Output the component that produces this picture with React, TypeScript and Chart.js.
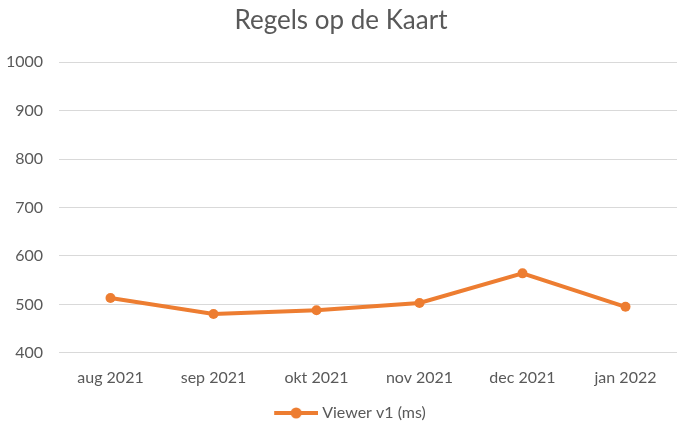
import { useEffect, useRef } from "react";
import { Chart, registerables } from "chart.js";
Chart.register(...registerables);

const categories = ["aug 2021", "sep 2021", "okt 2021", "nov 2021", "dec 2021", "jan 2022"];
const viewerV1 = [513, 480, 488, 503, 564, 495];
const yMin = 400;
const yMax = 1000;
const yStep = 100;
const titleText = "Regels op de Kaart";
const seriesLabel = "Viewer v1 (ms)";

const ORANGE = "#ED7D31";
const TEXT = "#595959";
const GRID = "#D9D9D9";

function makeLegendIcon(): HTMLCanvasElement {
  const c = document.createElement("canvas");
  c.width = 66;
  c.height = 12;
  const ctx = c.getContext("2d")!;
  ctx.strokeStyle = ORANGE;
  ctx.lineWidth = 4;
  ctx.beginPath();
  ctx.moveTo(22, 6);
  ctx.lineTo(66, 6);
  ctx.stroke();
  ctx.fillStyle = ORANGE;
  ctx.beginPath();
  ctx.arc(44, 6, 5.5, 0, Math.PI * 2);
  ctx.fill();
  return c;
}

export default function App() {
  const ref = useRef<HTMLCanvasElement>(null);
  useEffect(() => {
    if (!ref.current) return;
    const icon = makeLegendIcon();
    const chart = new Chart(ref.current, {
      type: "line",
      data: {
        labels: categories,
        datasets: [
          {
            label: seriesLabel,
            data: viewerV1,
            borderColor: ORANGE,
            backgroundColor: ORANGE,
            borderWidth: 4,
            pointRadius: 5,
            pointBackgroundColor: ORANGE,
            pointBorderColor: ORANGE,
            pointBorderWidth: 0,
            tension: 0,
          },
        ],
      },
      options: {
        responsive: false,
        animation: false,
        layout: { padding: { left: 0, right: 0, top: 0, bottom: -6 } },
        plugins: {
          title: {
            display: true,
            text: titleText,
            color: TEXT,
            font: { family: "Lato", size: 26, weight: "normal" },
            padding: { top: 5, bottom: 26 },
          },
          legend: {
            position: "bottom",
            labels: {
              color: TEXT,
              font: { family: "Lato", size: 16 },
              usePointStyle: true,
              pointStyle: icon as any,
              pointStyleWidth: 58,
              boxHeight: 12,
              padding: 3,
            },
          },
          tooltip: { enabled: false },
        },
        scales: {
          x: {
            offset: true,
            grid: { display: false, drawTicks: false },
            border: { display: false },
            ticks: {
              color: TEXT,
              font: { family: "Lato", size: 16 },
              padding: 15,
              maxRotation: 0,
            },
          },
          y: {
            min: yMin,
            max: yMax,
            afterFit: (scale: any) => {
              scale.width = 59;
            },
            grid: { color: GRID, lineWidth: 1, drawTicks: false },
            border: { display: false },
            ticks: {
              stepSize: yStep,
              color: TEXT,
              font: { family: "Lato", size: 16 },
              padding: 16,
              callback: (v: any) => String(v),
            },
          },
        },
      },
    });
    return () => chart.destroy();
  }, []);
  return (
    <div
      style={{
        position: "absolute",
        left: 0,
        top: 0,
        width: 679,
        height: 425,
        overflow: "hidden",
        background: "#fff",
      }}
    >
      <canvas ref={ref} width={682} height={425} style={{ width: 682, height: 425 }} />
    </div>
  );
}
